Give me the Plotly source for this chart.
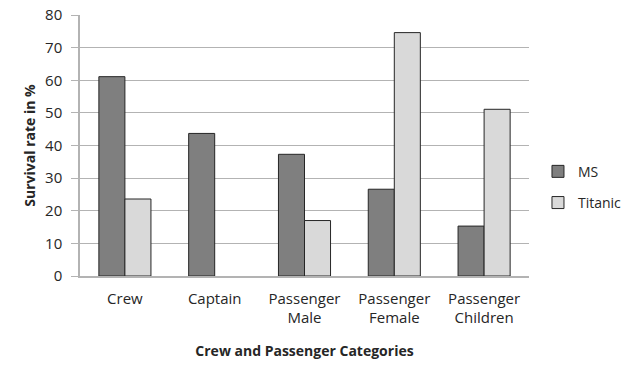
import plotly.graph_objects as go

categories = ["Crew", "Captain", "Passenger<br>Male", "Passenger<br>Female", "Passenger<br>Children"]
ms_values = [61.1, 43.7, 37.3, 26.6, 15.3]
titanic_values = [23.6, 0, 17.0, 74.6, 51.1]
y_ticks = [0, 10, 20, 30, 40, 50, 60, 70, 80]

FONT = "Open Sans, sans-serif"
TXT = "#262626"

fig = go.Figure()
fig.add_trace(go.Bar(name="MS", x=categories, y=ms_values,
                     marker=dict(color="#7f7f7f", line=dict(color="#262626", width=1)),
                     legendgroup="a"))
fig.add_trace(go.Bar(name="Titanic", x=categories, y=titanic_values,
                     marker=dict(color="#d9d9d9",
                                 line=dict(color="#262626",
                                           width=[1 if v > 0 else 0 for v in titanic_values])),
                     legendgroup="b"))

fig.update_layout(
    width=635, height=376,
    margin=dict(l=80, r=106, t=15, b=100, autoexpand=False),
    paper_bgcolor="white", plot_bgcolor="white",
    barmode="group", bargap=0.42, bargroupgap=0,
    font=dict(family=FONT, size=14, color=TXT),
    showlegend=True,
    legend=dict(x=1.02, y=0.34, xanchor="left", yanchor="middle",
                font=dict(size=14, color=TXT), tracegroupgap=10,
                traceorder="grouped", itemwidth=30),
    xaxis=dict(showline=True, linecolor="#b3b3b3", linewidth=1.5,
               ticks="", showgrid=False, tickfont=dict(size=15, color=TXT),
               ticklabelstandoff=8, automargin=False,
               title=dict(text="<b>Crew and Passenger Categories</b>",
                          font=dict(size=14, color=TXT), standoff=20)),
    yaxis=dict(range=[0, 80], tickvals=y_ticks, showline=True, linecolor="#b3b3b3",
               linewidth=1.5, ticks="outside", ticklen=7, tickcolor="#b3b3b3",
               showgrid=True, gridcolor="#b3b3b3", gridwidth=1,
               zeroline=False, tickfont=dict(size=15, color=TXT),
               ticklabelstandoff=6, automargin=False,
               title=dict(text="<b>Survival rate in %</b>",
                          font=dict(size=14, color=TXT), standoff=6)),
)

fig.write_html("out.html", config={"displayModeBar": False},
               post_script="document.body.style.margin='0';document.body.style.overflow='hidden';")
